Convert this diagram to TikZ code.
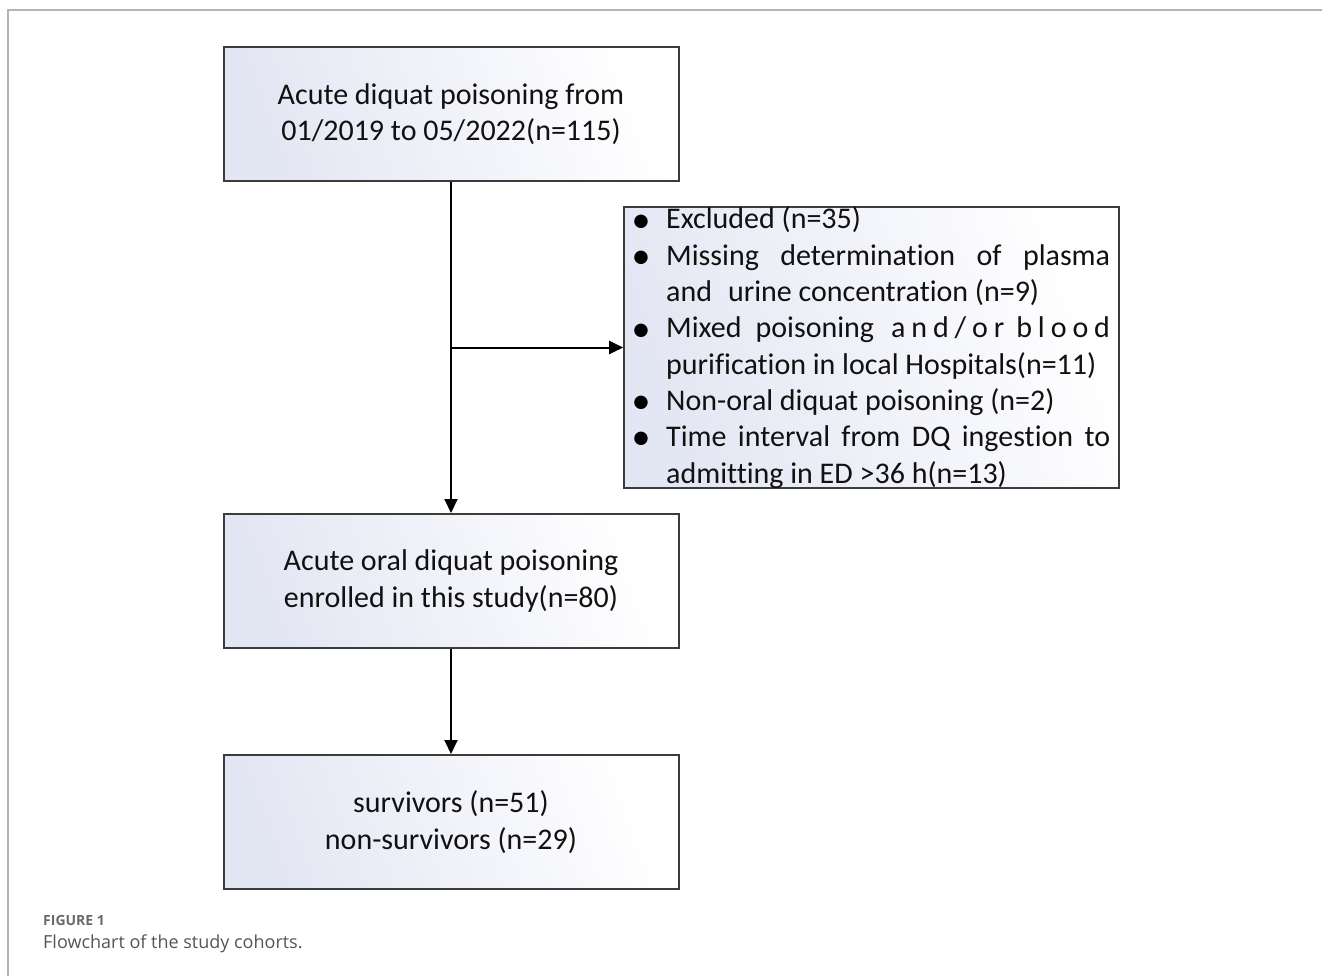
\documentclass[tikz,border=0pt]{standalone}
\usepackage{fontspec}
\setmainfont{Carlito}[Ligatures=NoCommon]
\newfontfamily\capfont{Open Sans}
\usetikzlibrary{arrows.meta}
\definecolor{framegray}{HTML}{B4B4B4}
\definecolor{edgegray}{HTML}{3C3C3C}
\definecolor{fillblue}{HTML}{E3E6F3}
\definecolor{txt}{HTML}{111111}
\definecolor{capgray}{HTML}{6A6A6A}
\definecolor{capgrayb}{HTML}{555555}
\begin{document}
\begin{tikzpicture}[x=1pt,y=-1pt,
  bigfont/.style={font=\fontsize{30}{36.5}\selectfont},
  boxshade/.style={left color=fillblue, right color=white, shading angle=110},
  flowbox/.style={draw=edgegray, line width=2pt, boxshade,
    minimum width=455pt, minimum height=134pt, inner sep=0pt, align=center, bigfont, text=txt},
  exclbox/.style={draw=edgegray, line width=1.6pt, boxshade,
    minimum width=495pt, minimum height=281pt, inner sep=0pt},
  linetext/.style={anchor=base west, inner sep=0pt, bigfont, text=txt},
  bul/.style={anchor=center, inner sep=0pt, font=\fontsize{38}{40}\selectfont, text=black},
  conn/.style={line width=2pt, draw=black, -{Triangle[length=14pt,width=13pt]}}
]
\useasboundingbox (0,0) rectangle (1322,976);
\draw[framegray, line width=2pt] (8,976) -- (8,10.5) -- (1322,10.5);

\node[flowbox] (box1) at (451,114) {Acute diquat poisoning from\\01/2019 to 05/2022(n=115)};
\node[flowbox] (box2) at (451,581) {Acute oral diquat poisoning\\enrolled in this study(n=80)};
\node[flowbox] (box3) at (451,822) {survivors (n=51)\\non-survivors (n=29)};

\node[exclbox] (excl) at (871.5,347.5) {};

\node[bul] (b1) at (641,223.5) {•};
\node[bul] (b2) at (641,259.8) {•};
\node[bul] (b3) at (641,332.4) {•};
\node[bul] (b4) at (641,405) {•};
\node[bul] (b5) at (641,441.3) {•};

\node[linetext] (l1) at (666,229) {Excluded (n=35)};
\node[linetext] (l2) at (666,265.3) {\makebox[444pt][s]{Missing determination of plasma}};
\node[linetext] (l3) at (666,301.6) {and\hspace{16pt}urine concentration (n=9)};
\node[linetext] (l4) at (666,337.9) {\makebox[444pt][s]{Mixed\hspace{14pt}poisoning\hspace{17pt}a\hfill n\hfill d\hfill /\hfill o\hfill r\hfill\hfill b\hfill l\hfill o\hfill o\hfill d}};
\node[linetext] (l5) at (666,374.2) {purification in local Hospitals(n=11)};
\node[linetext] (l6) at (666,410.5) {Non-oral diquat poisoning (n=2)};
\node[linetext] (l7) at (666,446.8) {\makebox[444pt][s]{Time interval from DQ ingestion to}};
\node[linetext] (l8) at (666,483.1) {admitting in ED >36 h(n=13)};

\draw[conn] (box1.south) -- (box2.north);
\coordinate (j) at (box1.south |- excl.west);
\draw[conn] (j) -- (excl.west);
\draw[conn] (box2.south) -- (box3.north);

\node[anchor=base west, inner sep=0pt, font=\capfont\bfseries\fontsize{14}{16}\selectfont, text=capgray] (figlab) at (43,925) {FIGURE 1};
\node[anchor=base west, inner sep=0pt, font=\capfont\fontsize{18}{21}\selectfont, text=capgrayb] (figcap) at (43,948) {Flowchart of the study cohorts.};
\end{tikzpicture}
\end{document}
